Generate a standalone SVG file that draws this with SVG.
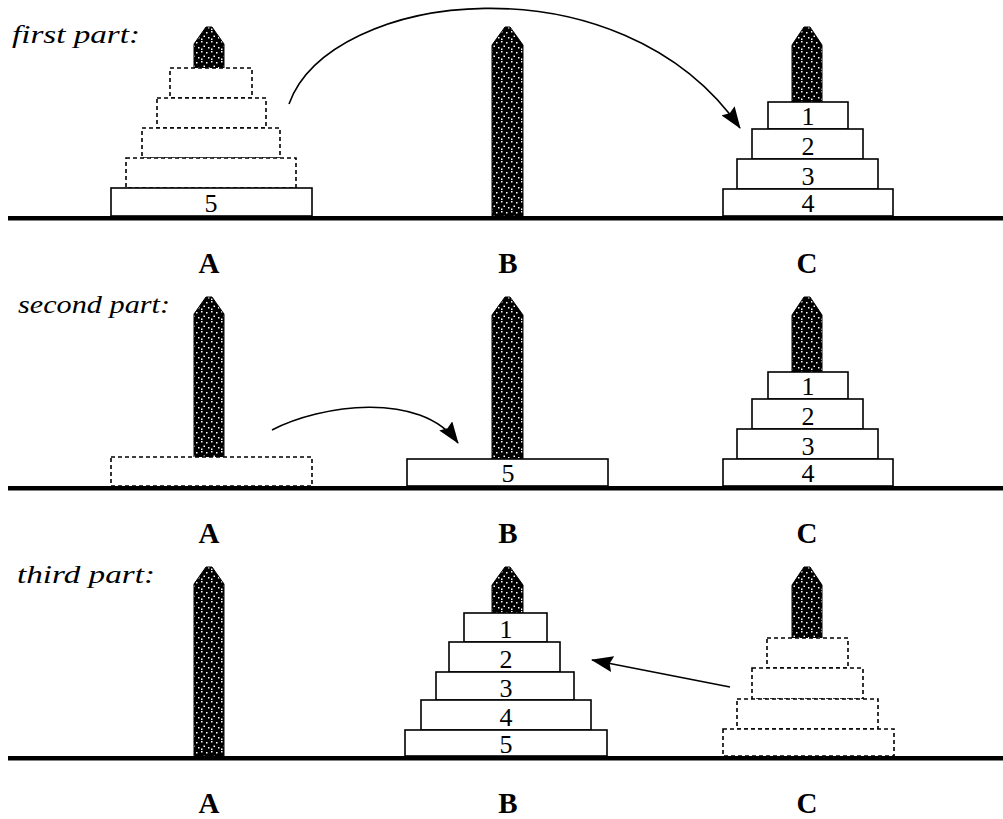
<svg xmlns="http://www.w3.org/2000/svg" width="1003" height="819" viewBox="0 0 1003 819">
<style>
.peg{fill:url(#dots);stroke:#000;stroke-width:1}
.disk{fill:#fff;stroke:#000;stroke-width:1.6}
.ghost{fill:#fff;stroke:#000;stroke-width:1.6;stroke-dasharray:4 3}
.num{font-family:"Liberation Serif",serif;font-size:26px;text-anchor:middle;fill:#000}
.pl{font-family:"Liberation Serif",serif;font-weight:bold;font-size:29px;text-anchor:middle;fill:#000}
.part{font-family:"Liberation Serif",serif;font-style:italic;font-size:25px;fill:#000}
.base{fill:#000}
.arrow{fill:none;stroke:#000;stroke-width:1.6;marker-end:url(#head)}
</style>
<defs>
<pattern id="dots" width="10" height="10" patternUnits="userSpaceOnUse">
<rect width="10" height="10" fill="#000"/>
<rect x="1" y="1" width="1.5" height="1.5" fill="#fff"/>
<rect x="6" y="2" width="1.5" height="1.5" fill="#fff"/>
<rect x="3.5" y="5.5" width="1.5" height="1.5" fill="#fff"/>
<rect x="8" y="7" width="1.5" height="1.5" fill="#fff"/>
<rect x="1" y="8.5" width="1.5" height="1.5" fill="#fff"/>
</pattern>
<marker id="head" viewBox="0 0 22 16" refX="21" refY="8" markerWidth="22" markerHeight="16" markerUnits="userSpaceOnUse" orient="auto">
<path d="M0,0 L22,8 L0,16 L3,8 Z" fill="#000"/>
</marker>
</defs>
<rect width="1003" height="819" fill="#fff"/>

<!-- baselines -->
<rect class="base" x="8" y="216" width="995" height="4.5"/>
<rect class="base" x="8" y="486" width="995" height="4.5"/>
<rect class="base" x="8" y="756" width="995" height="4.5"/>

<!-- part titles -->
<text class="part" x="12" y="43" textLength="128" lengthAdjust="spacingAndGlyphs">first part:</text>
<text class="part" x="18" y="313" textLength="152" lengthAdjust="spacingAndGlyphs">second part:</text>
<text class="part" x="17" y="583" textLength="138" lengthAdjust="spacingAndGlyphs">third part:</text>

<!-- peg labels -->
<text class="pl" x="209" y="273">A</text>
<text class="pl" x="508" y="273">B</text>
<text class="pl" x="807" y="273">C</text>
<text class="pl" x="209" y="543">A</text>
<text class="pl" x="508" y="543">B</text>
<text class="pl" x="807" y="543">C</text>
<text class="pl" x="209" y="813">A</text>
<text class="pl" x="508" y="813">B</text>
<text class="pl" x="807" y="813">C</text>

<!-- PANEL 1 -->
<g id="p1-peg-A"><polygon class="peg" points="194,216 194,44 206,27 212,27 224,44 224,216"/></g>
<g id="p1-peg-B"><polygon class="peg" points="492,216 492,45 505,27 510,27 523,45 523,216"/></g>
<g id="p1-peg-C"><polygon class="peg" points="792,216 792,45 804,27 810,27 822,45 822,216"/></g>
<g id="p1-A-d1"><rect class="ghost" x="170" y="68" width="82" height="30"/></g>
<g id="p1-A-d2"><rect class="ghost" x="157" y="98" width="109" height="30"/></g>
<g id="p1-A-d3"><rect class="ghost" x="142" y="128" width="138" height="30"/></g>
<g id="p1-A-d4"><rect class="ghost" x="126" y="158" width="170" height="30"/></g>
<g id="p1-A-d5"><rect class="disk" x="111" y="188" width="201" height="28"/><text class="num" x="211" y="212">5</text></g>
<g id="p1-C-d1"><rect class="disk" x="768" y="102" width="80" height="27"/><text class="num" x="808" y="125">1</text></g>
<g id="p1-C-d2"><rect class="disk" x="752" y="129" width="111" height="30"/><text class="num" x="808" y="155">2</text></g>
<g id="p1-C-d3"><rect class="disk" x="737" y="159" width="141" height="30"/><text class="num" x="808" y="185">3</text></g>
<g id="p1-C-d4"><rect class="disk" x="723" y="189" width="170" height="27"/><text class="num" x="808" y="212">4</text></g>

<!-- PANEL 2 -->
<g id="p2-peg-A"><polygon class="peg" points="194,486 194,314 206,297 212,297 224,314 224,486"/></g>
<g id="p2-peg-B"><polygon class="peg" points="492,486 492,315 505,297 510,297 523,315 523,486"/></g>
<g id="p2-peg-C"><polygon class="peg" points="792,486 792,315 804,297 810,297 822,315 822,486"/></g>
<g id="p2-A-d5"><rect class="ghost" x="111" y="457" width="201" height="29"/></g>
<g id="p2-B-d5"><rect class="disk" x="407" y="459" width="201" height="27"/><text class="num" x="508" y="482">5</text></g>
<g id="p2-C-d1"><rect class="disk" x="768" y="372" width="80" height="27"/><text class="num" x="808" y="395">1</text></g>
<g id="p2-C-d2"><rect class="disk" x="752" y="399" width="111" height="30"/><text class="num" x="808" y="425">2</text></g>
<g id="p2-C-d3"><rect class="disk" x="737" y="429" width="141" height="30"/><text class="num" x="808" y="455">3</text></g>
<g id="p2-C-d4"><rect class="disk" x="723" y="459" width="170" height="27"/><text class="num" x="808" y="482">4</text></g>

<!-- PANEL 3 -->
<g id="p3-peg-A"><polygon class="peg" points="194,756 194,584 206,567 212,567 224,584 224,756"/></g>
<g id="p3-peg-B"><polygon class="peg" points="492,756 492,585 505,567 510,567 523,585 523,756"/></g>
<g id="p3-peg-C"><polygon class="peg" points="792,756 792,585 804,567 810,567 822,585 822,756"/></g>
<g id="p3-B-d1"><rect class="disk" x="464" y="613" width="83" height="29"/><text class="num" x="506" y="638">1</text></g>
<g id="p3-B-d2"><rect class="disk" x="449" y="642" width="111" height="30"/><text class="num" x="506" y="668">2</text></g>
<g id="p3-B-d3"><rect class="disk" x="436" y="672" width="138" height="28"/><text class="num" x="506" y="697">3</text></g>
<g id="p3-B-d4"><rect class="disk" x="421" y="700" width="170" height="30"/><text class="num" x="506" y="726">4</text></g>
<g id="p3-B-d5"><rect class="disk" x="405" y="730" width="202" height="26"/><text class="num" x="506" y="753">5</text></g>
<g id="p3-C-d1"><rect class="ghost" x="767" y="638" width="81" height="30"/></g>
<g id="p3-C-d2"><rect class="ghost" x="752" y="668" width="111" height="31"/></g>
<g id="p3-C-d3"><rect class="ghost" x="737" y="699" width="141" height="30"/></g>
<g id="p3-C-d4"><rect class="ghost" x="723" y="729" width="171" height="27"/></g>

<!-- connectors -->
<g id="connectors">
<path class="arrow" d="M289,104 C330,-10 620,-45 740,128"/>
<path class="arrow" d="M272,430 C320,405 420,390 458,443"/>
<path class="arrow" d="M730,687 L592,660"/>
</g>
</svg>
